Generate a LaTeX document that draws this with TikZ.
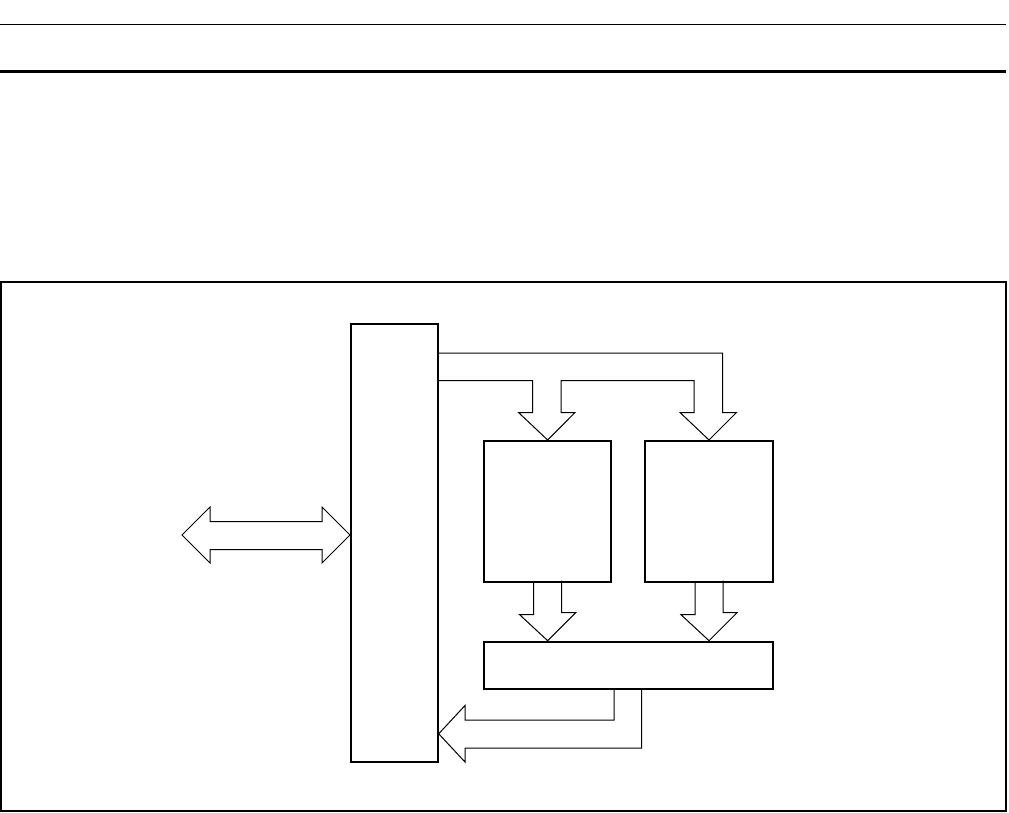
\documentclass[tikz,border=0pt]{standalone}
\usetikzlibrary{calc}

\tikzset{
  box/.style={draw, line width=2pt, inner sep=0pt, anchor=north west},
  bus/.style={draw, line width=1pt, line join=miter}
}

\begin{document}
\begin{tikzpicture}[x=1pt, y=-1pt]
    \useasboundingbox (0,0) rectangle (1009,813);

    % rules and frame
    \draw[line width=1pt] (0,24.5) -- (1006,24.5);
    \draw[line width=2.5pt] (0,71.5) -- (1006,71.5);
    \draw[line width=2pt] (1,282) rectangle (1006,811);

    % blocks
    \node[box, minimum width=86.7pt, minimum height=437.7pt] (ctrl) at (350,323) {};
    \node[box, minimum width=126.7pt, minimum height=140.7pt] (unitA) at (483.3,440) {};
    \node[box, minimum width=128pt, minimum height=140.7pt] (unitB) at (644,440) {};
    \node[box, minimum width=289pt, minimum height=46.8pt] (merge) at (483,640.7) {};

    \coordinate (host) at (182,535);

    % double arrow to the left
    \draw[bus] (ctrl.west |- host) -- ++(-28,-28) -- ++(0,14.5) -- ++(-112,0)
        -- ++(0,-14.5) -- (host) -- ++(28,28) -- ++(0,-13.5) -- ++(112,0)
        -- ++(0,13.5) -- cycle;

    % bus to the two units
    \draw[bus] (ctrl.east |- 0,380.5) -- (532.5,380.5) -- (532.5,412.5) -- (518.5,412.5)
        -- (unitA.north) -- (575,412.5) -- (561,412.5) -- (561,380.5)
        -- (694,380.5) -- (694,412.5) -- (680,412.5) -- (unitB.north)
        -- (736.5,412.5) -- (722.5,412.5) -- (722.5,353) -- (ctrl.east |- 0,353);

    % units down to merge
    \draw[bus] (unitA.south) ++(-14,0) -- ++(0,32) -- ++(-14,0)
        -- (unitA.south |- merge.north) -- ++(28,-28) -- ++(-14,0) -- ++(0,-32);
    \draw[bus] (unitB.south) ++(-14,0) -- ++(0,32) -- ++(-14,0)
        -- (unitB.south |- merge.north) -- ++(28,-28) -- ++(-14,0) -- ++(0,-32);

    % back to ctrl
    \draw[bus] (merge.south -| 614,0) -- (614,720) -- (465,720) -- (465,705.5)
        -- (ctrl.east |- 0,733.8) -- (465,762) -- (465,748) -- (641.5,748)
        -- (merge.south -| 641.5,0);
\end{tikzpicture}
\end{document}
